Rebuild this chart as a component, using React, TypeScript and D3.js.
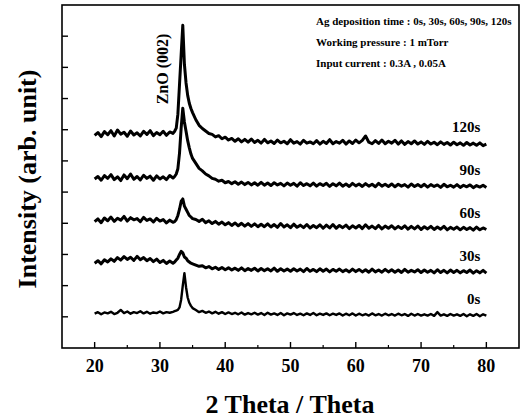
import React from 'react';
import * as d3 from 'd3';

// 2θ grid (deg) shared by all patterns, finer around ZnO (002)
const twoTheta = [
  20, 20.5, 21, 21.5, 22, 22.5, 23, 23.5, 24, 24.5, 25, 25.5, 26, 26.5, 27, 27.5, 28, 28.5, 29, 29.5, 30, 30.5, 31, 31.5, 32,
  32.25, 32.5, 32.75, 33, 33.25, 33.5, 33.75, 34, 34.25, 34.5, 34.75, 35,
  35.5, 36, 36.5, 37, 37.5, 38, 38.5, 39, 39.5, 40,
  40.5, 41, 41.5, 42, 42.5, 43, 43.5, 44, 44.5, 45,
  45.5, 46, 46.5, 47, 47.5, 48, 48.5, 49, 49.5, 50,
  50.5, 51, 51.5, 52, 52.5, 53, 53.5, 54, 54.5, 55,
  55.5, 56, 56.5, 57, 57.5, 58, 58.5, 59, 59.5, 60,
  60.5, 61, 61.5, 62, 62.5, 63, 63.5, 64, 64.5, 65,
  65.5, 66, 66.5, 67, 67.5, 68, 68.5, 69, 69.5, 70,
  70.5, 71, 71.5, 72, 72.5, 73, 73.5, 74, 74.5, 75,
  75.5, 76, 76.5, 77, 77.5, 78, 78.5, 79, 79.5, 80,
];

const i0s = [
  1.10, 1.15, 1.08, 1.14, 1.11, 1.16, 1.09, 1.13, 1.22, 1.12, 1.17, 1.10, 1.15, 1.12, 1.18, 1.11, 1.16, 1.10, 1.14, 1.12, 1.17, 1.11, 1.15, 1.13, 1.16,
  1.18, 1.20, 1.22, 1.30, 1.55, 2.00, 2.40, 1.95, 1.62, 1.45, 1.35, 1.28,
  1.22, 1.15, 1.19, 1.13, 1.17, 1.11, 1.16, 1.10, 1.15, 1.09,
  1.14, 1.09, 1.13, 1.08, 1.14, 1.07, 1.12, 1.08, 1.13, 1.07,
  1.12, 1.06, 1.13, 1.07, 1.11, 1.06, 1.12, 1.05, 1.11, 1.07,
  1.12, 1.06, 1.10, 1.05, 1.11, 1.06, 1.12, 1.05, 1.10, 1.06,
  1.11, 1.05, 1.10, 1.06, 1.11, 1.04, 1.10, 1.05, 1.11, 1.04,
  1.10, 1.05, 1.09, 1.04, 1.11, 1.05, 1.09, 1.04, 1.10, 1.05,
  1.09, 1.04, 1.10, 1.05, 1.09, 1.03, 1.10, 1.04, 1.09, 1.04,
  1.08, 1.04, 1.09, 1.03, 1.15, 1.04, 1.08, 1.03, 1.09, 1.04,
  1.08, 1.03, 1.09, 1.02, 1.08, 1.03, 1.09, 1.02, 1.08, 1.04,
];

const i30s = [
  2.72, 2.80, 2.70, 2.83, 2.76, 2.86, 2.78, 2.90, 2.82, 2.93, 2.84, 2.91, 2.81, 2.94, 2.83, 2.90, 2.80, 2.87, 2.77, 2.85, 2.74, 2.81, 2.71, 2.79, 2.72,
  2.76, 2.82, 2.88, 3.00, 3.10, 3.05, 2.92, 2.88, 2.80, 2.76, 2.72, 2.70,
  2.66, 2.62, 2.64, 2.57, 2.61, 2.54, 2.59, 2.52, 2.58, 2.51,
  2.57, 2.50, 2.56, 2.49, 2.57, 2.48, 2.55, 2.49, 2.56, 2.47,
  2.55, 2.48, 2.54, 2.47, 2.56, 2.46, 2.54, 2.47, 2.53, 2.46,
  2.54, 2.47, 2.53, 2.45, 2.55, 2.46, 2.52, 2.45, 2.54, 2.46,
  2.53, 2.44, 2.52, 2.46, 2.53, 2.45, 2.51, 2.44, 2.53, 2.45,
  2.52, 2.44, 2.51, 2.43, 2.53, 2.44, 2.50, 2.43, 2.52, 2.44,
  2.51, 2.43, 2.50, 2.42, 2.52, 2.43, 2.49, 2.44, 2.51, 2.42,
  2.50, 2.43, 2.49, 2.41, 2.51, 2.42, 2.49, 2.41, 2.50, 2.42,
  2.49, 2.41, 2.48, 2.42, 2.50, 2.40, 2.48, 2.41, 2.49, 2.40,
];

const i60s = [
  4.05, 4.14, 4.02, 4.17, 4.08, 4.20, 4.06, 4.16, 4.10, 4.22, 4.07, 4.18, 4.11, 4.15, 4.05, 4.19, 4.09, 4.14, 4.04, 4.16, 4.07, 4.12, 4.01, 4.10, 4.03,
  4.05, 4.12, 4.25, 4.45, 4.70, 4.78, 4.55, 4.45, 4.35, 4.25, 4.20, 4.15,
  4.12, 4.06, 4.13, 4.02, 4.08, 3.99, 4.06, 3.97, 4.04, 3.95,
  4.02, 3.93, 4.01, 3.92, 4.00, 3.91, 3.99, 3.90, 3.98, 3.89,
  3.97, 3.89, 3.98, 3.88, 3.96, 3.87, 3.99, 3.88, 3.95, 3.86,
  3.97, 3.87, 3.94, 3.86, 3.96, 3.85, 3.93, 3.86, 3.95, 3.84,
  3.94, 3.85, 3.96, 3.84, 3.93, 3.86, 3.94, 3.83, 3.92, 3.85,
  3.93, 3.83, 3.95, 3.84, 3.91, 3.83, 3.93, 3.82, 3.91, 3.84,
  3.92, 3.82, 3.90, 3.83, 3.92, 3.81, 3.90, 3.82, 3.91, 3.80,
  3.89, 3.82, 3.90, 3.80, 3.88, 3.81, 3.90, 3.79, 3.87, 3.81,
  3.88, 3.79, 3.87, 3.80, 3.86, 3.78, 3.88, 3.79, 3.85, 3.80,
];

const i90s = [
  5.42, 5.50, 5.38, 5.53, 5.44, 5.56, 5.40, 5.49, 5.37, 5.55, 5.43, 5.58, 5.41, 5.50, 5.39, 5.54, 5.44, 5.51, 5.38, 5.52, 5.42, 5.49, 5.40, 5.53, 5.45,
  5.50, 5.58, 5.75, 6.25, 7.05, 7.69, 7.25, 6.95, 6.65, 6.42, 6.22, 6.08,
  5.92, 5.76, 5.68, 5.58, 5.52, 5.44, 5.41, 5.35, 5.38, 5.30,
  5.34, 5.27, 5.33, 5.25, 5.32, 5.24, 5.31, 5.23, 5.30, 5.22,
  5.31, 5.22, 5.29, 5.21, 5.30, 5.23, 5.28, 5.20, 5.29, 5.22,
  5.28, 5.19, 5.30, 5.21, 5.27, 5.20, 5.29, 5.19, 5.27, 5.21,
  5.28, 5.18, 5.27, 5.20, 5.29, 5.19, 5.26, 5.18, 5.28, 5.20,
  5.26, 5.18, 5.27, 5.19, 5.25, 5.17, 5.28, 5.19, 5.25, 5.18,
  5.26, 5.17, 5.25, 5.19, 5.24, 5.16, 5.26, 5.18, 5.24, 5.17,
  5.25, 5.16, 5.24, 5.18, 5.23, 5.15, 5.25, 5.17, 5.22, 5.16,
  5.24, 5.15, 5.22, 5.17, 5.23, 5.14, 5.21, 5.16, 5.22, 5.15,
];

const i120s = [
  6.82, 6.91, 6.78, 6.94, 6.84, 6.97, 6.80, 6.99, 6.86, 6.92, 6.79, 6.96, 6.83, 6.90, 6.80, 6.95, 6.85, 6.97, 6.81, 6.91, 6.84, 6.95, 6.82, 6.93, 6.88,
  6.95, 7.05, 7.50, 8.45, 9.40, 10.35, 9.10, 8.50, 8.10, 7.85, 7.68, 7.55,
  7.32, 7.14, 7.04, 6.96, 6.88, 6.85, 6.77, 6.81, 6.71, 6.76,
  6.67, 6.72, 6.63, 6.71, 6.61, 6.69, 6.60, 6.70, 6.59, 6.66,
  6.57, 6.69, 6.58, 6.64, 6.56, 6.67, 6.58, 6.63, 6.55, 6.68,
  6.57, 6.62, 6.54, 6.66, 6.57, 6.61, 6.55, 6.65, 6.54, 6.63,
  6.56, 6.68, 6.55, 6.62, 6.57, 6.66, 6.54, 6.64, 6.56, 6.67,
  6.58, 6.66, 6.80, 6.60, 6.55, 6.65, 6.56, 6.67, 6.55, 6.63,
  6.57, 6.66, 6.54, 6.64, 6.53, 6.62, 6.55, 6.64, 6.54, 6.61,
  6.53, 6.63, 6.54, 6.60, 6.52, 6.61, 6.53, 6.59, 6.51, 6.60,
  6.52, 6.58, 6.50, 6.59, 6.51, 6.57, 6.50, 6.58, 6.49, 6.54,
];

const sampleLabels = ['0s', '30s', '60s', '90s', '120s'];
const patterns = [i0s, i30s, i60s, i90s, i120s];

const xMajor = [20, 30, 40, 50, 60, 70, 80];
const xMinor = [25, 35, 45, 55, 65, 75];

const notes = [
  'Ag deposition time : 0s, 30s, 60s, 90s, 120s',
  'Working pressure : 1 mTorr',
  'Input current : 0.3A , 0.05A',
];

const FONT = "'Liberation Serif', 'Times New Roman', serif";

export default function App() {
  const W = 521, H = 419;
  const left = 62, right = 519, top = 5, bottom = 348;

  const x = d3.scaleLinear().domain([15, 85]).range([left, right]);
  const y = d3.scaleLinear().domain([0, 11]).range([bottom, top]);
  const yTicks = y.ticks(11).filter((t) => t > 0 && t < 11);

  const line = d3
    .line<number>()
    .x((_, i) => x(twoTheta[i]))
    .y((d) => y(d));

  return (
    <svg width={W} height={H} style={{ position: 'absolute', left: 0, top: 0, background: '#fff' }} fontFamily={FONT}>
      <rect x={0} y={0} width={W} height={H} fill="#fff" />

      {patterns.map((p, i) => (
        <g key={sampleLabels[i]}>
          <path d={line(p) || ''} fill="none" stroke="#000" strokeWidth={i === 0 ? 2.4 : 3} strokeLinejoin="round" />
          <text
            x={x(80) - 6}
            y={y(p[p.length - 1]) - 12}
            textAnchor="end"
            fontSize={15}
            fontWeight="bold"
          >
            {sampleLabels[i]}
          </text>
        </g>
      ))}

      {/* frame */}
      <rect x={left} y={top} width={right - left} height={bottom - top} fill="none" stroke="#000" strokeWidth={1.6} />

      {xMajor.map((t) => (
        <g key={'xm' + t}>
          <line x1={x(t)} x2={x(t)} y1={bottom} y2={bottom - 6} stroke="#000" strokeWidth={1.4} />
          <text x={x(t)} y={372} textAnchor="middle" fontSize={18} fontWeight="bold">
            {t}
          </text>
        </g>
      ))}
      {xMinor.map((t) => (
        <line key={'xn' + t} x1={x(t)} x2={x(t)} y1={bottom} y2={bottom - 3} stroke="#000" strokeWidth={1.2} />
      ))}
      {yTicks.map((t) => (
        <line key={'y' + t} x1={left} x2={left + 6} y1={y(t)} y2={y(t)} stroke="#000" strokeWidth={1.4} />
      ))}

      {notes.map((n, i) => (
        <text key={n} x={316} y={25 + i * 21} fontSize={11} fontWeight="bold">
          {n}
        </text>
      ))}

      <text
        transform={`translate(${x(33.5) - 15},${69}) rotate(-90)`}
        textAnchor="middle"
        fontSize={16}
        fontWeight="bold"
      >
        ZnO (002)
      </text>

      <text transform="translate(36,179) rotate(-90)" textAnchor="middle" fontSize={26} fontWeight="bold">
        Intensity (arb. unit)
      </text>
      <text x={290} y={413} textAnchor="middle" fontSize={26} fontWeight="bold">
        2 Theta / Theta
      </text>
    </svg>
  );
}
